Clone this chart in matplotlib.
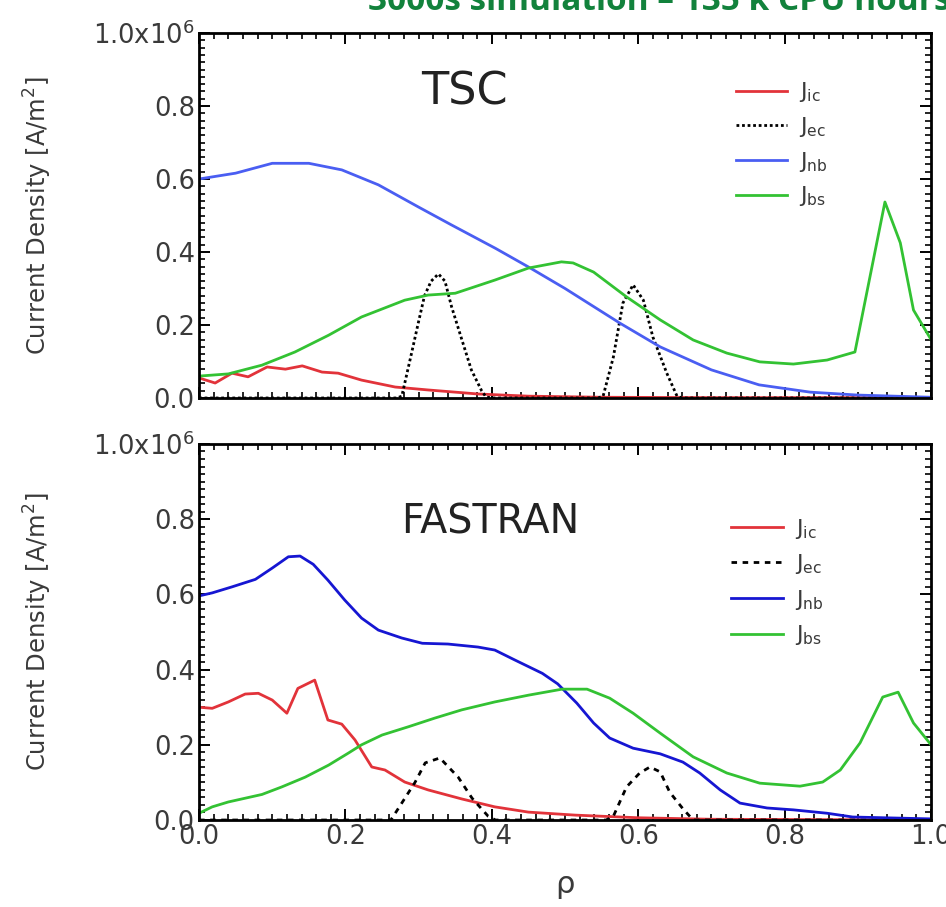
import matplotlib
matplotlib.use("Agg")
import matplotlib.pyplot as plt
from matplotlib.ticker import MultipleLocator, FixedLocator, FixedFormatter

# ---------------- data (values in units of 1e6 A/m^2) ----------------
tsc_nb_x = [0, .05, .10, .15, .195, .245, .30, .345, .405, .45, .50, .575, .63, .70, .765, .835, .90, 1.0]
tsc_nb_y = [.60, .616, .643, .643, .625, .584, .523, .474, .41, .359, .30, .205, .14, .077, .036, .016, .008, .002]

tsc_bs_x = [0, .04, .086, .131, .177, .222, .281, .313, .35, .404, .45, .495, .511, .539, .584, .63, .675,
            .721, .766, .812, .858, .896, .937, .958, .976, 1.0]
tsc_bs_y = [.06, .066, .09, .126, .172, .222, .268, .282, .287, .323, .356, .373, .37, .345, .277, .214, .159,
            .123, .099, .093, .104, .126, .537, .425, .241, .16]

tsc_ic_x = [0, .022, .045, .067, .093, .118, .141, .168, .19, .222, .268, .313, .381, .45, .55, .7, 1.0]
tsc_ic_y = [.055, .041, .068, .058, .085, .079, .088, .071, .068, .049, .03, .022, .011, .005, .002, .001, .001]

tsc_ec_x = [0, .27, .277, .29, .30, .308, .317, .327, .336, .345, .359, .372, .386, .392, .40,
            .545, .552, .566, .579, .593, .607, .62, .639, .653, .66, 1.0]
tsc_ec_y = [0, 0, .005, .12, .21, .28, .32, .34, .32, .25, .16, .077, .02, .003, 0,
            0, .005, .112, .26, .31, .268, .167, .068, .005, 0, 0]

fas_nb_x = [0, .018, .045, .077, .10, .122, .138, .156, .176, .199, .222, .245, .277, .305, .34, .381, .404,
            .432, .469, .49, .516, .539, .561, .593, .63, .661, .684, .712, .739, .776, .812, .858, .893, 1.0]
fas_nb_y = [.596, .604, .62, .64, .67, .70, .702, .68, .638, .585, .537, .505, .484, .47, .468, .46, .452,
            .425, .39, .362, .311, .258, .218, .191, .176, .154, .125, .08, .045, .032, .027, .018, .008, .003]

fas_bs_x = [0, .018, .04, .086, .113, .145, .177, .204, .222, .25, .286, .322, .359, .404, .45, .496, .53,
            .561, .593, .63, .675, .721, .766, .821, .852, .876, .903, .934, .955, .976, 1.0]
fas_bs_y = [.018, .035, .048, .068, .088, .114, .146, .178, .20, .226, .248, .271, .293, .314, .332, .348, .348,
            .324, .284, .231, .168, .125, .098, .09, .101, .133, .205, .327, .34, .258, .20]

fas_ic_x = [0, .018, .04, .063, .081, .10, .12, .135, .158, .176, .195, .213, .236, .254, .281, .313, .359,
            .404, .45, .514, .6, .7, 1.0]
fas_ic_y = [.30, .297, .314, .335, .337, .319, .284, .35, .372, .266, .255, .213, .141, .133, .101, .08, .056,
            .035, .021, .013, .006, .002, 0]

fas_ec_x = [0, .262, .272, .295, .309, .329, .354, .373, .395, .405, .556, .566, .584, .602, .616, .63, .643,
            .661, .675, 1.0]
fas_ec_y = [0, 0, .03, .10, .152, .165, .114, .058, .01, 0, 0, .01, .088, .125, .141, .128, .074, .03, 0, 0]

ytick_vals = [0.0, 0.2, 0.4, 0.6, 0.8, 1.0]
ytick_labels = ["0.0", "0.2", "0.4", "0.6", "0.8", r"1.0x10$^{6}$"]
xtick_vals = [0.0, 0.2, 0.4, 0.6, 0.8, 1.0]
xtick_labels = ["0.0", "0.2", "0.4", "0.6", "0.8", "1.0"]
legend_labels = [r"J$_{\mathregular{ic}}$", r"J$_{\mathregular{ec}}$", r"J$_{\mathregular{nb}}$", r"J$_{\mathregular{bs}}$"]

# ---------------- styling ----------------
plt.rcParams['font.family'] = ['DejaVu Sans']
plt.rcParams['mathtext.default'] = 'regular'
TXT = '#3a3a3a'
RED = '#e2333a'
GREEN = '#33c233'
BLUE_TOP = '#4a5ef2'
BLUE_BOT = '#1616d2'
LW = 2.0

fig = plt.figure(figsize=(9.46, 9.07), dpi=100)
ax1 = fig.add_axes([0.2104, 0.5612, 0.7738, 0.4024])
ax2 = fig.add_axes([0.2104, 0.0959, 0.7738, 0.4146])


def style_axis(ax, show_x):
    ax.set_xlim(0, 1)
    ax.set_ylim(0, 1)
    ax.xaxis.set_major_locator(FixedLocator(xtick_vals))
    ax.xaxis.set_minor_locator(MultipleLocator(0.02))
    ax.yaxis.set_major_locator(FixedLocator(ytick_vals))
    ax.yaxis.set_minor_locator(MultipleLocator(0.02))
    ax.yaxis.set_major_formatter(FixedFormatter(ytick_labels))
    if show_x:
        ax.xaxis.set_major_formatter(FixedFormatter(xtick_labels))
    else:
        ax.set_xticklabels([])
    ax.tick_params(which='both', direction='in', top=True, right=True, color='black')
    ax.tick_params(which='major', length=8, width=1.4, labelsize=18.5, labelcolor=TXT, pad=3)
    ax.tick_params(which='minor', length=4.5, width=1.2)
    for s in ax.spines.values():
        s.set_linewidth(2.0)
        s.set_color('black')
        s.set_zorder(5)
    ax.set_ylabel(r"Current Density [A/m$^{2}$]", fontsize=17.5, color=TXT)
    ax.yaxis.set_label_coords(-0.198, 0.5)


# top panel (TSC)
ax1.plot(tsc_ic_x, tsc_ic_y, color=RED, lw=LW, label=legend_labels[0])
ax1.plot(tsc_ec_x, tsc_ec_y, color='black', lw=2.0, ls=(0, (1, 1)), label=legend_labels[1])
ax1.plot(tsc_nb_x, tsc_nb_y, color=BLUE_TOP, lw=LW, label=legend_labels[2])
ax1.plot(tsc_bs_x, tsc_bs_y, color=GREEN, lw=LW, label=legend_labels[3])
style_axis(ax1, False)
ax1.text(0.363, 0.838, "TSC", transform=ax1.transAxes, fontsize=32, color='#222222',
         ha='center', va='center')
ax1.legend(loc='upper left', bbox_to_anchor=(0.706, 0.925), frameon=False, fontsize=16,
           handlelength=2.3, handletextpad=0.55, labelspacing=0.48, labelcolor=TXT)

# bottom panel (FASTRAN)
ax2.plot(fas_ic_x, fas_ic_y, color=RED, lw=LW, label=legend_labels[0])
ax2.plot(fas_ec_x, fas_ec_y, color='black', lw=2.0, ls=(0, (2, 2)), label=legend_labels[1])
ax2.plot(fas_nb_x, fas_nb_y, color=BLUE_BOT, lw=LW, label=legend_labels[2])
ax2.plot(fas_bs_x, fas_bs_y, color=GREEN, lw=LW, label=legend_labels[3])
style_axis(ax2, True)
ax2.text(0.398, 0.79, "FASTRAN", transform=ax2.transAxes, fontsize=28.5, color='#222222',
         ha='center', va='center')
ax2.legend(loc='upper left', bbox_to_anchor=(0.70, 0.86), frameon=False, fontsize=16,
           handlelength=2.3, handletextpad=0.55, labelspacing=0.52, labelcolor=TXT)
ax2.set_xlabel("ρ", fontsize=22, color=TXT, labelpad=14)

# clipped headline at the very top
fig.text(0.389, 1 - 10 / 907, "3000s simulation – 135 k CPU hours", fontsize=24, fontweight='bold',
         color='#12823c', ha='left', va='baseline', family=['Open Sans', 'DejaVu Sans'])

fig.savefig("out.png", dpi=100)
